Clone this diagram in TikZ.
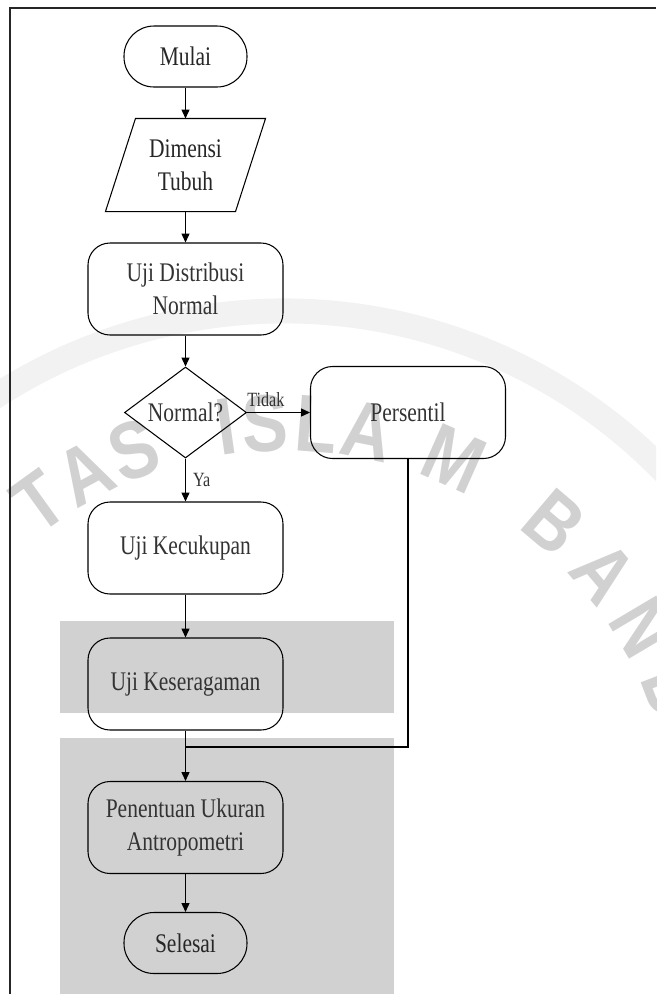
\documentclass[tikz,border=0pt]{standalone}
\usepackage{fontspec}
\setmainfont{Liberation Serif}[FakeStretch=0.8]
\newfontfamily\wmfont{Liberation Sans}[FakeStretch=0.85]
\usetikzlibrary{shapes.geometric,arrows.meta}

\begin{document}
\begin{tikzpicture}[line width=0.6pt, font=\fontsize{15.3}{18.7}\selectfont,
  >={Triangle[length=5pt,width=4.5pt]},
  term/.style={draw, rectangle, rounded corners=0.6cm, minimum width=2.46cm, minimum height=1.22cm, text=black!85},
  proc/.style={draw, rectangle, rounded corners=0.44cm, minimum width=3.9cm, minimum height=1.84cm, align=center, text=black!80},
  io/.style={rectangle, minimum width=2.58cm, minimum height=1.84cm, align=center, text=black!85},
  decision/.style={draw, diamond, shape aspect=1.34, inner sep=0pt, minimum width=2.44cm, minimum height=1.82cm, text=black!80},
  lbl/.style={font=\fontsize{11.5}{13}\selectfont, text=black!80, inner sep=1pt},
  wm/.style={text=black!18, font=\wmfont\bfseries\fontsize{46}{46}\selectfont}]
\useasboundingbox (0,0) rectangle (13.12,-19.88);

\begin{scope}
\clip (0,0) rectangle (13.12,-19.88);
\draw[black!5, line width=0.5cm] ([shift={(150:10.6)}] 5.68,-16.82) arc (150:15:10.6);
\foreach \ch/\ang in {T/125.8, A/118.5, S/111, I/98, S/92.6, L/85.5, A/78.5, M/66, B/49.7, A/40, N/30.7, D/21}
  \node[wm, rotate=\ang-90] (wm\ang) at ([shift={(\ang:8.36)}] 5.68,-16.82) {\ch};
\fill[black!18] (1.2,-12.42) rectangle (7.88,-14.26);
\fill[black!18] (1.2,-14.76) rectangle (7.88,-19.88);
\end{scope}

\draw[black!85] (0.2,-19.88) -- (0.2,-0.16) -- (13.12,-0.16);

\node[term] (mulai) at (3.71,-1.13) {Mulai};
\node[io] (dimensi) at (3.71,-3.30) {Dimensi\\Tubuh};
\draw ([xshift=0.3cm]dimensi.north west) -- ([xshift=0.3cm]dimensi.north east)
  -- ([xshift=-0.3cm]dimensi.south east) -- ([xshift=-0.3cm]dimensi.south west) -- cycle;
\node[proc] (distribusi) at (3.71,-5.78) {Uji Distribusi\\Normal};
\node[decision] (normal) at (3.71,-8.25) {Normal?};
\node[proc] (persentil) at (8.16,-8.25) {Persentil};
\node[proc] (kecukupan) at (3.71,-10.96) {Uji Kecukupan};
\node[proc] (keseragaman) at (3.71,-13.68) {Uji Keseragaman};
\node[proc] (penentuan) at (3.71,-16.55) {Penentuan Ukuran\\Antropometri};
\node[term] (selesai) at (3.71,-18.86) {Selesai};
\coordinate (gabung) at (3.71,-14.94);

\draw[->] (mulai) -- (dimensi);
\draw[->] (dimensi) -- (distribusi);
\draw[->] (distribusi) -- (normal);
\draw[->] (normal) -- node[lbl, above=2pt, pos=0.3] (tidak) {Tidak} (persentil);
\draw[->] (normal) -- node[lbl, right, xshift=3pt] (ya) {Ya} (kecukupan);
\draw[->] (kecukupan) -- (keseragaman);
\draw (persentil.south) |- (gabung);
\draw[->] (keseragaman) -- (penentuan);
\draw[->] (penentuan) -- (selesai);
\end{tikzpicture}
\end{document}
